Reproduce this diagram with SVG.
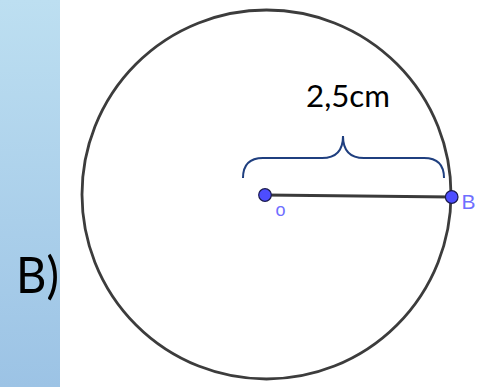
<svg xmlns="http://www.w3.org/2000/svg" width="482" height="387" viewBox="0 0 482 387">
<defs>
<linearGradient id="strip" x1="0" y1="0" x2="0" y2="1">
<stop offset="0" stop-color="#bddff1"/>
<stop offset="1" stop-color="#9cc3e5"/>
</linearGradient>
<style>
.pt{fill:#4d4dff;stroke:#1a1a4d;stroke-width:1.2}
.lbl{font-family:"Liberation Sans",Arial,sans-serif;fill:#6f6fff}
.txt{font-family:"Lato","Liberation Sans",sans-serif;fill:#000}
</style>
</defs>
<rect x="0" y="0" width="482" height="387" fill="#fff"/>
<rect x="0" y="0" width="60" height="387" fill="url(#strip)"/>
<text class="txt" x="16" y="293" font-size="50" textLength="43" lengthAdjust="spacingAndGlyphs">B)</text>
<g id="circle">
<circle cx="266.5" cy="194.5" r="184.5" fill="none" stroke="#3c3c3c" stroke-width="2.8"/>
</g>
<g id="connectors">
<line x1="265" y1="195" x2="451.7" y2="197" stroke="#3a3a3a" stroke-width="2.8"/>
<path d="M243,178 C243,165 250,158 263,158 L322,158 C336,158 343,150 343,136 C343,150 350,158 364,158 L424,158 C437,158 444,165 444,178" fill="none" stroke="#1f3f7f" stroke-width="2"/>
</g>
<g id="label">
<text class="txt" x="306" y="107" font-size="31" textLength="84" lengthAdjust="spacingAndGlyphs">2,5cm</text>
</g>
<g id="O">
<circle class="pt" cx="265" cy="195" r="6.3"/>
<text class="lbl" x="275.5" y="215.5" font-size="18">o</text>
</g>
<g id="B">
<circle class="pt" cx="451.7" cy="197" r="6.3"/>
<text class="lbl" x="461.5" y="208.5" font-size="21">B</text>
</g>
</svg>
